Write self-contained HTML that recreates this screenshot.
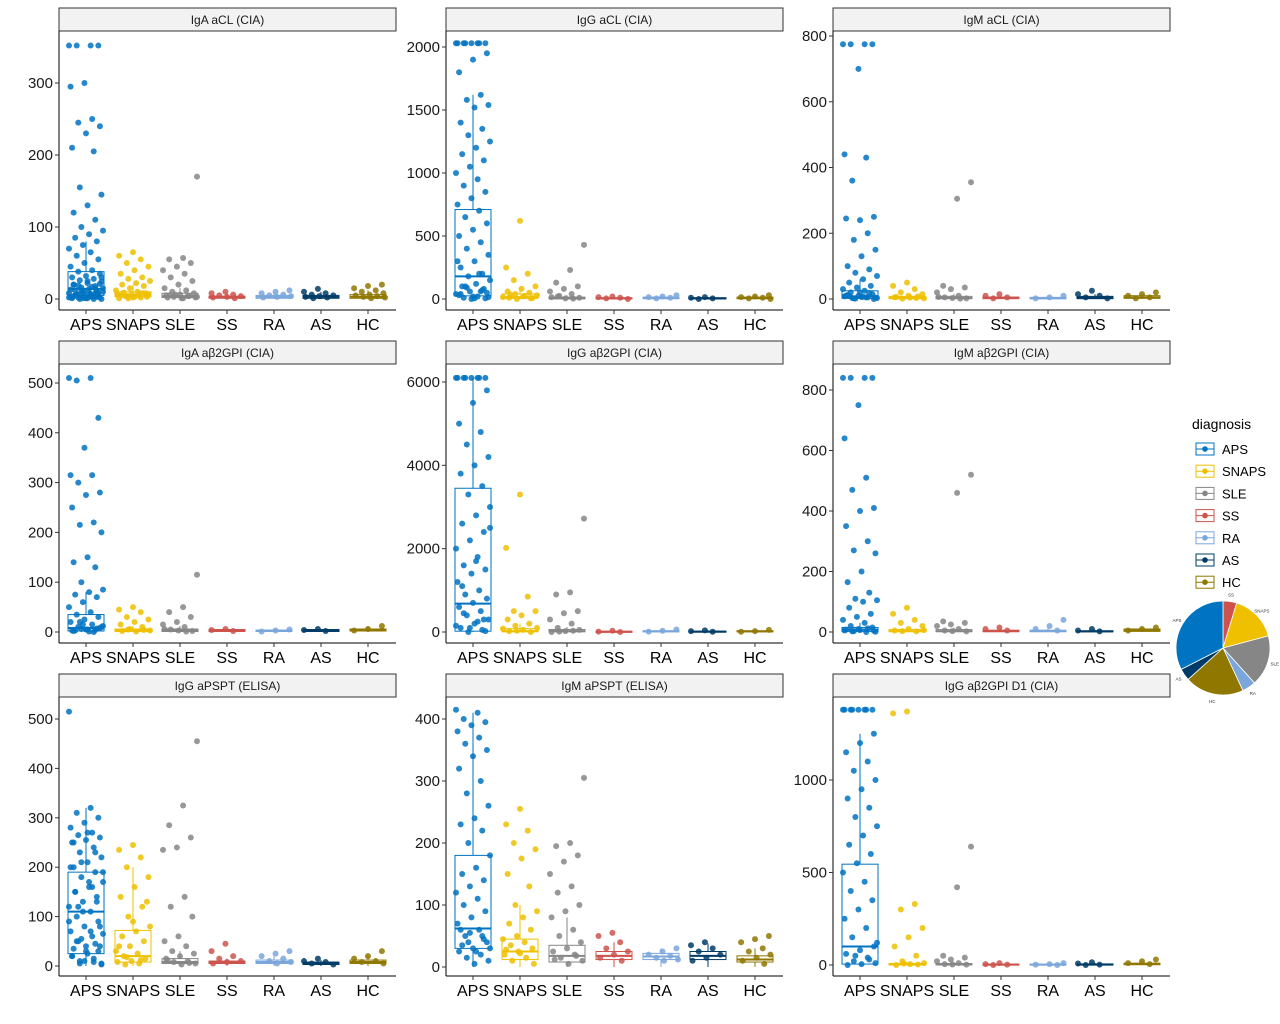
<!DOCTYPE html>
<html><head><meta charset="utf-8"><style>
body{margin:0;background:#fff;}
svg{display:block;font-family:"Liberation Sans",Arial,sans-serif;}
</style></head><body>
<svg id="chart" width="1280" height="1024" viewBox="0 0 1280 1024"></svg>
<script>
const categories=["APS","SNAPS","SLE","SS","RA","AS","HC"];
const colors=["#0073C2","#EFC000","#868686","#CD534C","#7AA6DC","#003C67","#8F7700"];
const panelTitles=["IgA aCL (CIA)","IgG aCL (CIA)","IgM aCL (CIA)","IgA aβ2GPI (CIA)","IgG aβ2GPI (CIA)","IgM aβ2GPI (CIA)","IgG aPSPT (ELISA)","IgM aPSPT (ELISA)","IgG aβ2GPI D1 (CIA)"];
const tickValues=[[0,100,200,300],[0,500,1000,1500,2000],[0,200,400,600,800],[0,100,200,300,400,500],[0,2000,4000,6000],[0,200,400,600,800],[0,100,200,300,400,500],[0,100,200,300,400],[0,500,1000]];
const pointsP1=[[352,352,352,352,300,295,250,245,240,230,210,205,155,145,130,120,110,100,95,90,85,80,75,70,65,60,55,50,45,40,38,35,32,30,28,26,24,22,20,18,16,15,14,12,10,9,8,7,6,5,4,3,3,2,2,1,1,0,0,30,25,20,15,12,10,8,5,3,1,2,4,6,9,11,13,17,19,21,2,3,5,7,0,1,4,8],[65,60,55,50,45,40,35,30,28,25,22,20,18,15,12,10,9,8,7,6,5,4,3,2,1,2,4,6,3,5,8,1],[170,57,55,50,45,40,35,30,25,20,15,12,10,8,6,5,4,3,2,1,2,4,6,3,1,5],[10,8,6,5,4,3,2,1],[12,10,8,6,5,4,3,2],[14,10,8,6,5,4,3,2,1],[20,18,15,12,10,8,6,5,4,3,2,1]];
const pointsP2=[[2030,2030,2030,2030,2030,2030,2030,2030,1950,1900,1800,1620,1580,1540,1520,1400,1350,1300,1250,1200,1150,1100,1050,1000,950,900,850,800,750,700,650,600,550,500,450,400,350,300,250,200,180,150,120,100,80,60,40,20,10,5,0,300,200,100,50,20,30,60,90,15,5,40,70],[620,250,200,150,100,80,60,50,40,30,20,10,5,0,15,25,35,8],[430,230,130,100,80,60,40,20,10,5,15,3,25],[20,15,10,5,0],[30,20,15,10,5],[15,10,5,0],[30,20,15,10,5,0]];
const pointsP3=[[775,775,775,775,700,440,430,360,250,240,245,200,180,150,130,100,90,80,70,60,50,40,35,30,25,20,15,10,8,5,3,0,20,10,5,2,4,6,12,18,1,3,7,9],[50,40,30,20,15,10,5,3,1,2,4,6,8],[355,305,40,35,30,20,10,5,2,3,6,1],[15,10,5,2],[10,5,2],[25,15,10,5,2],[20,15,10,5,2]];
const pointsP4=[[510,510,505,430,370,315,315,300,280,275,250,220,215,200,150,140,130,100,85,80,75,70,60,50,40,35,30,25,20,15,10,8,5,3,0,20,10,5,2,4,6,12,1,3,7,15],[50,45,40,30,25,20,15,10,5,3,1,2,4,6],[115,50,40,30,20,15,10,5,2,3,6,1],[6,4,2],[5,3,1],[6,4,2],[12,6,3]];
const pointsP5=[[6100,6100,6100,6100,6100,6100,6100,6100,5800,5500,5000,4800,4500,4200,4000,3800,3500,3300,3000,2800,2600,2400,2200,2000,1800,1600,1500,1400,1200,1000,900,800,700,600,500,400,300,200,100,50,0,2500,1700,1100,300,100,150,250,450,20],[3300,2020,850,500,500,400,300,200,150,100,50,20,0,30,80],[2720,950,900,500,450,300,200,100,50,20,0,30,10],[30,10,0],[60,30,10],[40,20,5],[50,20,5]];
const pointsP6=[[840,840,840,840,750,640,510,470,410,400,350,300,270,260,200,165,130,110,105,100,80,60,50,40,30,20,15,10,5,0,2,4,6,8,12,3,1],[80,60,40,30,20,10,5,2,3,6],[520,460,35,30,25,20,10,5,2,3],[15,10,5],[40,20,10,5],[10,5,2],[15,10,5]];
const pointsP7=[[515,320,310,300,290,280,270,265,260,255,250,240,230,220,210,200,190,180,170,160,150,140,130,120,110,100,90,80,70,60,50,40,30,20,15,10,5,270,250,230,210,190,170,150,130,110,90,70,50,30,10,200,160,120,80,40,20,8,5,3,25,35,45,55,65],[245,235,220,200,180,160,140,120,100,80,70,60,50,40,30,25,20,15,10,8,5,3,130,90,40,12,18],[455,325,285,260,240,235,140,120,100,60,50,40,30,25,20,15,10,8,5,3,12,6],[45,30,20,15,10,8,5],[30,25,20,15,10,8,5],[15,10,8,5,3],[30,20,15,10,8,5]];
const pointsP8=[[415,410,400,395,390,380,370,360,350,340,320,300,280,260,240,230,220,200,180,160,150,140,130,120,110,100,90,80,70,60,50,40,30,25,20,15,10,5,60,50,40,30,25,35,45,55],[255,230,220,200,190,175,150,130,100,90,80,70,60,50,45,40,35,30,25,20,15,10,5,22,28],[305,200,195,180,170,150,130,120,100,90,80,60,50,40,30,25,20,15,10,5,12,18],[55,50,40,30,25,20,15,10],[30,25,20,18,15,12,10],[40,35,30,25,20,15,10],[50,45,40,30,25,20,15,10,5]];
const pointsP9=[[1380,1380,1380,1380,1380,1380,1380,1380,1250,1200,1150,1100,1050,1000,950,900,850,800,750,700,650,600,550,500,450,400,350,300,250,200,150,100,80,60,40,20,10,5,0,30,50,120],[1370,1360,330,300,200,150,100,50,20,10,5,0,3,8],[640,420,50,40,30,20,10,5,2,3],[10,5,2,0],[10,5,2,0],[15,8,2,0],[30,20,10,5]];
const allPoints=[pointsP1,pointsP2,pointsP3,pointsP4,pointsP5,pointsP6,pointsP7,pointsP8,pointsP9];
const boxesP1=[[5,14,38,80],[3,6,10,20],[2,4,8,15],[1,2,4,8],[1,3,5,10],[1,3,5,10],[1,3,6,12]];
const boxesP2=[[25,180,710,1620],[5,15,40,90],[2,5,15,30],[1,5,10,20],[2,8,15,30],[1,5,10,15],[2,8,15,30]];
const boxesP3=[[2,8,25,60],[1,3,8,15],[1,3,8,15],[1,3,6,10],[1,2,5,8],[1,4,8,15],[2,5,10,15]];
const boxesP4=[[2,8,35,80],[1,3,6,12],[1,3,6,12],[1,3,5,6],[1,2,4,5],[1,3,5,6],[2,4,6,10]];
const boxesP5=[[20,680,3450,6100],[5,20,80,200],[5,20,60,120],[2,8,15,30],[5,15,30,60],[2,8,20,40],[5,15,30,50]];
const boxesP6=[[2,8,15,30],[1,3,8,15],[1,3,8,15],[1,3,6,10],[1,3,6,12],[1,2,4,8],[2,5,10,15]];
const boxesP7=[[25,110,190,320],[8,20,72,200],[5,8,15,30],[5,7,10,15],[5,8,12,20],[3,5,8,12],[5,8,12,20]];
const boxesP8=[[30,62,180,410],[12,25,45,100],[8,18,35,80],[12,18,25,40],[12,17,22,30],[12,18,25,38],[8,12,18,30]];
const boxesP9=[[5,100,545,1250],[0,3,8,15],[1,3,8,15],[0,2,5,8],[0,2,5,8],[0,2,6,12],[2,5,10,20]];
const allBoxes=[boxesP1,boxesP2,boxesP3,boxesP4,boxesP5,boxesP6,boxesP7,boxesP8,boxesP9];
const pieOrder=["SS","SNAPS","SLE","RA","HC","AS","APS"];
const pieCounts=[17,58,63,17,73,15,117];

const NS="http://www.w3.org/2000/svg";
const svg=document.getElementById('chart');
function mk(tag,attrs,parent,name,inter){const e=document.createElementNS(NS,tag);for(const k in attrs)e.setAttribute(k,attrs[k]);


(parent||svg).appendChild(e);return e;}
const colX=[59,446,833], rowTop=[8,341,674];
const PW=337, stripH=23, plotH=279;
const zeroY=[299,299,299,632,632,632,966,967,965];
const topTick=[[300,83],[2000,47],[800,36],[500,383],[6000,382],[800,390],[500,719],[400,719],[1000,780]];
for(let p=0;p<9;p++){
  const c=p%3,r=Math.floor(p/3);const x0=colX[c],x1=x0+PW,ty=rowTop[r];
  const g=mk('g',{},svg,'panel-'+(p+1),false);
  const scale=(zeroY[p]-topTick[p][1])/topTick[p][0];
  const yS=v=>zeroY[p]-v*scale;
  const xS=i=>x0+27+i*47;
  mk('rect',{x:x0,y:ty,width:PW,height:stripH,fill:'#f2f2f2',stroke:'#333','stroke-width':1},g,'strip-background',false);
  const st=mk('text',{x:x0+PW/2,y:ty+16,'text-anchor':'middle','font-size':12,fill:'#1a1a1a'},g,'panel-title',false);st.textContent=panelTitles[p];
  const axB=ty+stripH+plotH;
  mk('line',{x1:x0,y1:ty+stripH,x2:x0,y2:axB,stroke:'#000','stroke-width':1},g,'y-axis-line',false);
  mk('line',{x1:x0,y1:axB,x2:x1,y2:axB,stroke:'#000','stroke-width':1},g,'x-axis-line',false);
  tickValues[p].forEach(t=>{const y=yS(t);
    mk('line',{x1:x0-4,y1:y,x2:x0,y2:y,stroke:'#333'},g,'y-tick',false);
    const tx=mk('text',{x:x0-6,y:y+5,'text-anchor':'end','font-size':15,fill:'#1a1a1a'},g,'y-tick-label',false);tx.textContent=t;});
  categories.forEach((cat,i)=>{const x=xS(i);
    mk('line',{x1:x,y1:axB,x2:x,y2:axB+4,stroke:'#333'},g,'x-tick',false);
    const tx=mk('text',{x:x,y:axB+20,'text-anchor':'middle','font-size':16,fill:'#000'},g,'x-tick-label',false);tx.textContent=cat;
    const b=allBoxes[p][i],col=colors[i];
    const bg=mk('g',{},g,'box-'+cat.toLowerCase(),false);
    mk('line',{x1:x,y1:yS(b[2]),x2:x,y2:yS(b[3]),stroke:col},bg,'whisker',false);
    mk('line',{x1:x,y1:yS(0),x2:x,y2:yS(b[0]),stroke:col},bg,'whisker',false);
    mk('rect',{x:x-18,y:yS(b[2]),width:36,height:Math.max(1,yS(b[0])-yS(b[2])),fill:'none',stroke:col,'stroke-width':1},bg,'box',false);
    mk('line',{x1:x-18,y1:yS(b[1]),x2:x+18,y2:yS(b[1]),stroke:col,'stroke-width':2},bg,'median-line',false);
    allPoints[p][i].forEach((v,k)=>{const off=(((k*37+i*11)%23)/22-0.5)*34;
      mk('circle',{cx:x+off,cy:yS(v),r:3,fill:col,'fill-opacity':0.85},bg,'point-'+cat.toLowerCase(),false);});
  });
}
const lg=mk('g',{},svg,'legend',false);
const lt=mk('text',{x:1192,y:429,'font-size':14,fill:'#000'},lg,'legend-title',false);lt.textContent='diagnosis';
categories.forEach((cat,i)=>{const y=449+i*22.2;const e=mk('g',{},lg,'legend-entry-'+cat.toLowerCase(),true);
  mk('rect',{x:1196,y:y-6,width:18,height:12,fill:'#fff',stroke:colors[i]},e,'legend-key',false);
  mk('line',{x1:1196,y1:y,x2:1214,y2:y,stroke:colors[i]},e,'legend-key-line',false);
  mk('circle',{cx:1205,cy:y,r:2.8,fill:colors[i]},e,'legend-key-dot',false);
  const t=mk('text',{x:1222,y:y+5,'font-size':13,fill:'#000'},e,'legend-label',false);t.textContent=cat;});
const pg=mk('g',{},svg,'pie-chart',false);
const cx=1223,cy=648,R=47;const tot=pieCounts.reduce((a,b)=>a+b,0);let a0=0;
pieOrder.forEach((nm,i)=>{const a1=a0+pieCounts[i]/tot*2*Math.PI;
  const p0=[cx+R*Math.sin(a0),cy-R*Math.cos(a0)],p1=[cx+R*Math.sin(a1),cy-R*Math.cos(a1)];
  const large=(a1-a0)>Math.PI?1:0;const col=colors[categories.indexOf(nm)];
  mk('path',{d:`M${cx},${cy}L${p0[0]},${p0[1]}A${R},${R} 0 ${large} 1 ${p1[0]},${p1[1]}Z`,fill:col,stroke:'#fff','stroke-width':0.8},pg,'pie-slice-'+nm.toLowerCase(),false);
  const am=(a0+a1)/2;const t=mk('text',{x:cx+(R+7)*Math.sin(am),y:cy-(R+7)*Math.cos(am)+2,'text-anchor':'middle','font-size':4.5,fill:'#333'},pg,'pie-label',false);t.textContent=nm;
  a0=a1;});
</script>
</body></html>
